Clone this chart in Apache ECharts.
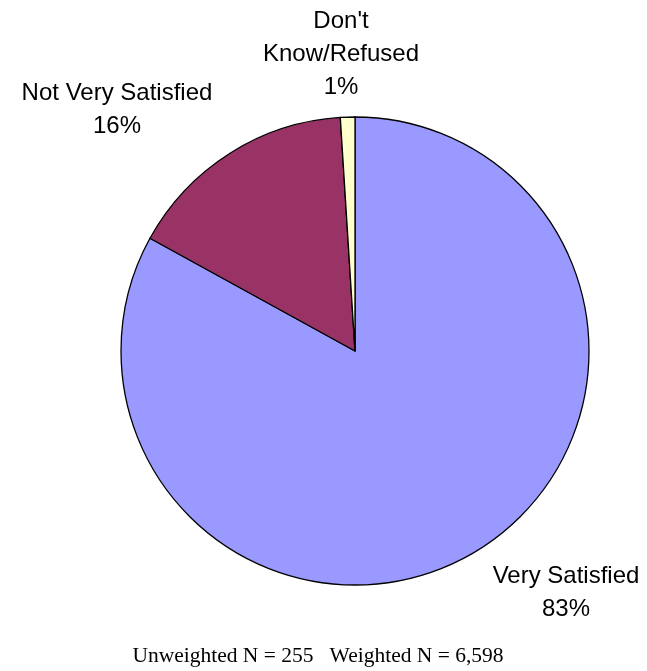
<!DOCTYPE html>
<html><head><meta charset="utf-8">
<script src="https://cdn.jsdelivr.net/npm/echarts@6/dist/echarts.min.js"></script>
<style>html,body{margin:0;padding:0;background:#fff}#c{width:647px;height:671px}</style>
</head><body><div id="c"></div>
<script>
const categories = ["Very Satisfied", "Not Very Satisfied", "Don't\nKnow/Refused"];
const values = [83, 16, 1];
const colors = ["#9999FF", "#993366", "#FFFFCC"];
const footnote = "Unweighted N = 255   Weighted N = 6,598";
const labelPos = [[566, 593], [117, 110], [341, 54]];

const chart = echarts.init(document.getElementById('c'), null, {renderer: 'canvas'});
chart.setOption({
  backgroundColor: '#ffffff',
  animation: false,
  graphic: [{
    type: 'text', x: 318, y: 656,
    style: {text: footnote, font: '21.5px "Liberation Serif", "Times New Roman", serif', fill: '#000',
            align: 'center', verticalAlign: 'middle'}
  }],
  series: [{
    type: 'pie',
    center: [355, 351],
    radius: [0, 234],
    startAngle: 90,
    clockwise: true,
    data: categories.map((c, i) => ({name: c, value: values[i], itemStyle: {color: colors[i]}})),
    itemStyle: {borderColor: '#000', borderWidth: 1.3},
    label: {
      show: true, position: 'outside',
      formatter: p => p.name + '\n' + p.value + '%',
      fontFamily: '"Liberation Sans", Arial, sans-serif', fontSize: 24, lineHeight: 33,
      color: '#000', align: 'center', overflow: 'none', width: 300
    },
    labelLine: {show: false},
    labelLayout: p => ({x: labelPos[p.dataIndex][0], y: labelPos[p.dataIndex][1], align: 'center', verticalAlign: 'middle', hideOverlap: false}),
    emphasis: {disabled: true}
  }]
});
</script></body></html>
